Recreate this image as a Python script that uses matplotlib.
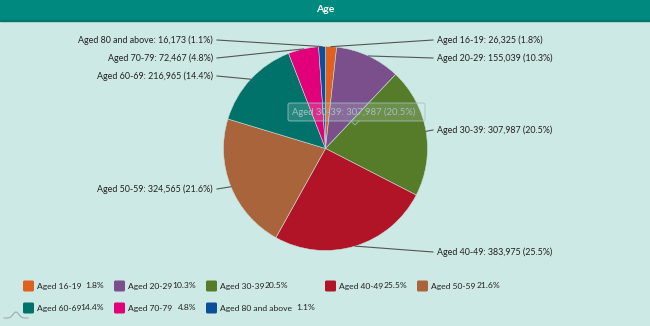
import numpy as np
import matplotlib
matplotlib.use('Agg')
import matplotlib.pyplot as plt
from matplotlib.patches import Rectangle, FancyBboxPatch

# Data
labels = ['Aged 16-19', 'Aged 20-29', 'Aged 30-39', 'Aged 40-49',
          'Aged 50-59', 'Aged 60-69', 'Aged 70-79', 'Aged 80 and above']
values = [26325, 155039, 307987, 383975, 324565, 216965, 72467, 16173]
colors = ['#e0601f', '#7b4f8c', '#567b29', '#b11426',
          '#a9643b', '#00726a', '#e2007a', '#0a4f97']

plt.rcParams['font.family'] = ['Lato', 'DejaVu Sans']

W, H = 650, 326
FS = 6.4
LFS = 6.1
total = sum(values)
pcts = [v / total * 100 for v in values]

fig = plt.figure(figsize=(6.5, 3.26), dpi=100, facecolor='#cde9e6')
ax = fig.add_axes([0, 0, 1, 1])
ax.set_facecolor('#cde9e6')

# title bar
ax.add_patch(Rectangle((0, H - 20), W, 20, color='#00897f', zorder=1))
ax.add_patch(Rectangle((0, H - 21), W, 1.2, color='#0a756d', zorder=1))
ax.text(W / 2, H - 10, 'Age', color='white', fontsize=7.5, fontweight='bold',
        ha='center', va='center', zorder=2)

# pie
cx, cy, r = 325.5, H - 148.5, 102
wedges, _ = ax.pie(values, colors=colors, startangle=90, counterclock=False,
                   center=(cx, cy), radius=r, frame=True,
                   wedgeprops=dict(edgecolor='#c9dcd9', linewidth=0.4))

# data labels with connectors
label_y = {0: 40, 1: 58, 2: 130, 3: 252, 4: 189, 5: 76, 6: 58, 7: 40}
for i, w in enumerate(wedges):
    mid = np.deg2rad((w.theta1 + w.theta2) / 2)
    ex, ey = cx + r * np.cos(mid), cy + r * np.sin(mid)
    ly = H - label_y[i]
    txt = f'{labels[i]}: {values[i]:,} ({pcts[i]:.1f}%)'
    if ex >= cx:
        ax.plot([ex, 433], [ey, ly], color='#555555', lw=0.8, zorder=3)
        ax.text(437, ly, txt, fontsize=FS, color='#222222', ha='left', va='center')
    else:
        ax.plot([ex, 217], [ey, ly], color='#555555', lw=0.8, zorder=3)
        ax.text(213, ly, txt, fontsize=FS, color='#222222', ha='right', va='center')

# tooltip (faded hover state)
ax.add_patch(FancyBboxPatch((288, H - 121), 137, 18,
                            boxstyle='round,pad=0,rounding_size=2',
                            facecolor='#d8ecea', edgecolor='#9fc4c0',
                            lw=0.8, alpha=0.18, zorder=4))
ax.add_patch(FancyBboxPatch((288, H - 121), 137, 18,
                            boxstyle='round,pad=0,rounding_size=2',
                            facecolor='none', edgecolor='#9fc4c0',
                            lw=0.8, alpha=0.6, zorder=4))
ax.plot([351, 355, 359], [H - 121, H - 125, H - 121], color='#9fc4c0',
        lw=0.8, alpha=0.7, zorder=4)
ax.text(354, H - 112, f'{labels[2]}: {values[2]:,} ({pcts[2]:.1f}%)',
        fontsize=6.8, color='#a3c2be', ha='center', va='center', zorder=5)

# small sparkline icon, bottom left
sx = np.linspace(4, 28, 40)
ax.plot(sx, H - 318 + 6 * np.exp(-((sx - 16) / 4) ** 2), color='#9aaeac',
        lw=0.8, zorder=2)

# legend
leg_x = [23, 114, 206, 325, 417, 23, 114, 206]
leg_y = [286, 286, 286, 286, 286, 308, 308, 308]
pct_right = [67, 68, 68, 68, 69, 67, 68, 95]
for i in range(len(labels)):
    x0, y0 = leg_x[i], H - leg_y[i]
    ax.add_patch(FancyBboxPatch((x0, y0 - 5.5), 11, 11,
                                boxstyle='round,pad=0,rounding_size=1.5',
                                facecolor=colors[i], edgecolor='none', zorder=3))
    ax.text(x0 + 14, y0, labels[i], fontsize=LFS, color='#222222',
            ha='left', va='center')
    ax.text(x0 + 14 + pct_right[i], y0, f'{pcts[i]:.1f}%', fontsize=LFS,
            color='#222222', ha='right', va='center')

ax.set_xlim(0, W)
ax.set_ylim(0, H)
ax.axis('off')

fig.savefig('out.png', dpi=100, facecolor=fig.get_facecolor())
